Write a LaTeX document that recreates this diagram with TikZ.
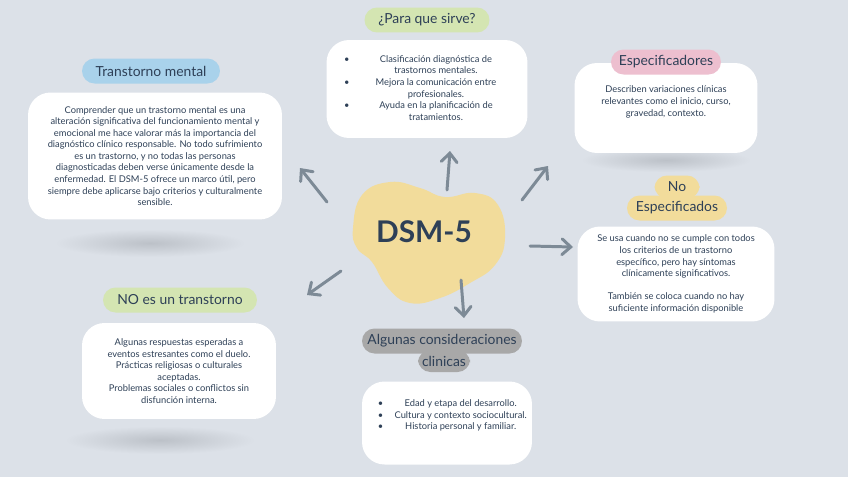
\documentclass[tikz,border=0pt]{standalone}
\usepackage{fontspec}
\setmainfont{Lato}
\usepackage{array}
\usetikzlibrary{arrows.meta}

\definecolor{fondo}{HTML}{DCE1E8}
\definecolor{tinta}{HTML}{2E4057}
\definecolor{gris}{HTML}{7D8A96}
\definecolor{sombra}{HTML}{BCC1C8}
\definecolor{azul}{HTML}{A9D2EB}
\definecolor{verde}{HTML}{D4E5B2}
\definecolor{rosa}{HTML}{EDBFCF}
\definecolor{amarillo}{HTML}{F2DC9B}
\definecolor{grispill}{HTML}{A8A8A8}

\tikzset{
  caja/.style={fill=white, rounded corners=0.45cm, inner sep=0pt},
  pill/.style={rounded corners=0.25cm, inner sep=0pt, minimum height=0.5cm,
    font=\fontsize{7.9}{9.5}\selectfont, text=tinta},
  texto/.style={align=center, font=\fontsize{5.3}{6.6}\selectfont, text=tinta, inner sep=0pt},
  flecha/.style={-{Straight Barb[length=5pt,width=9pt,line cap=round]},
    line width=1.7pt, color=gris, line cap=round},
}

\begin{document}
\begin{tikzpicture}[x=0.02cm, y=-0.02cm]
  % background
  \fill[fondo] (0,0) rectangle (848,477);
  \useasboundingbox (0,0) rectangle (848,477);

  % shadows
  \shade[inner color=sombra, outer color=fondo] (150,243) ellipse [x radius=1.9cm, y radius=0.28cm];
  \shade[inner color=sombra, outer color=fondo] (666,160) ellipse [x radius=1.7cm, y radius=0.24cm];
  \shade[inner color=sombra, outer color=fondo] (160,440) ellipse [x radius=1.9cm, y radius=0.28cm];

  % centre
  \fill[amarillo] plot[smooth cycle, tension=0.75] coordinates {
    (353,228) (362,195) (390,182) (420,188) (445,197) (475,193) (498,205)
    (505,238) (495,265) (470,283) (440,298) (410,303) (388,288) (372,262) (357,248)};
  \node[text=tinta, font=\fontsize{17}{20}\selectfont\bfseries] (dsm) at (424,232) {DSM-5};

  % Transtorno mental
  \node[caja, texto, minimum width=5.08cm, minimum height=2.54cm] (trbox) at (155,156) {
    Comprender que un trastorno mental es una\\
    alteración significativa del funcionamiento mental y\\
    emocional me hace valorar más la importancia del\\
    diagnóstico clínico responsable. No todo sufrimiento\\
    es un trastorno, y no todas las personas\\
    diagnosticadas deben verse únicamente desde la\\
    enfermedad. El DSM-5 ofrece un marco útil, pero\\
    siempre debe aplicarse bajo criterios y culturalmente\\
    sensible.};
  \node[pill, fill=azul, minimum width=2.76cm] (trhead) at (151,71) {Transtorno mental};

  % Para que sirve
  \node[caja, texto, minimum width=4.02cm, minimum height=1.96cm] (parabox) at (427,89) {
    \begin{tabular}{@{}l@{\hspace{0.25cm}}>{\centering\arraybackslash}p{2.96cm}@{}}
      \textbullet & Clasificación diagnóstica de\\
                  & trastornos mentales.\\
      \textbullet & Mejora la comunicación entre\\
                  & profesionales.\\
      \textbullet & Ayuda en la planificación de\\
                  & tratamientos.
    \end{tabular}};
  \node[pill, fill=verde, minimum width=2.5cm] (parahead) at (427,20) {¿Para que sirve?};

  % Especificadores
  \node[caja, minimum width=3.66cm, minimum height=1.8cm] (espbox) at (666,108) {};
  \node[texto] (esptxt) at (666,102) {
    Describen variaciones clínicas\\
    relevantes como el inicio, curso,\\
    gravedad, contexto.};
  \node[pill, fill=rosa, minimum width=2.2cm] (esphead) at (666,62) {Especificadores};

  % No especificados
  \node[caja, texto, minimum width=3.94cm, minimum height=1.9cm] (noespbox) at (676,274) {
    Se usa cuando no se cumple con todos\\
    los criterios de un trastorno\\
    específico, pero hay síntomas\\
    clínicamente significativos.\\[6.6pt]
    También se coloca cuando no hay\\
    suficiente información disponible};
  \node[pill, fill=amarillo, minimum width=0.9cm, minimum height=0.46cm] (noeshead) at (677,187) {No};
  \node[pill, fill=amarillo, minimum width=2.0cm] (noeshead2) at (677,208) {Especificados};

  % NO es un transtorno
  \node[caja, texto, minimum width=3.88cm, minimum height=1.92cm] (noesbox) at (179,371) {
    Algunas respuestas esperadas a\\
    eventos estresantes como el duelo.\\
    Prácticas religiosas o culturales\\
    aceptadas.\\
    Problemas sociales o conflictos sin\\
    disfunción interna.};
  \node[pill, fill=verde, minimum width=3.08cm] (noeshead3) at (180,300) {NO es un transtorno};

  % Algunas consideraciones clinicas
  \node[caja, minimum width=3.4cm, minimum height=1.66cm] (algbox) at (447,423) {};
  \node[texto] (algtxt) at (455,416) {
    \begin{tabular}{@{}l@{\hspace{0.12cm}}>{\centering\arraybackslash}p{2.86cm}@{}}
      \textbullet & Edad y etapa del desarrollo.\\
      \textbullet & Cultura y contexto sociocultural.\\
      \textbullet & Historia personal y familiar.
    \end{tabular}};
  \node[pill, fill=grispill, minimum width=1.04cm, minimum height=0.44cm] (alghead2) at (444,361) {clinicas};
  \node[pill, fill=grispill, minimum width=3.2cm] (alghead) at (442,341) {Algunas consideraciones};

  % arrows
  \coordinate (a1) at (447,190); \coordinate (b1) at (450,151);
  \coordinate (a2) at (522,200); \coordinate (b2) at (548,166);
  \coordinate (a3) at (530,246); \coordinate (b3) at (573,247);
  \coordinate (a4) at (461,280); \coordinate (b4) at (464,318);
  \coordinate (a5) at (341,271); \coordinate (b5) at (307,295);
  \coordinate (a6) at (327,202); \coordinate (b6) at (300,168);
  \foreach \i in {1,...,6}
    \draw[flecha] (a\i) -- (b\i);
\end{tikzpicture}
\end{document}
